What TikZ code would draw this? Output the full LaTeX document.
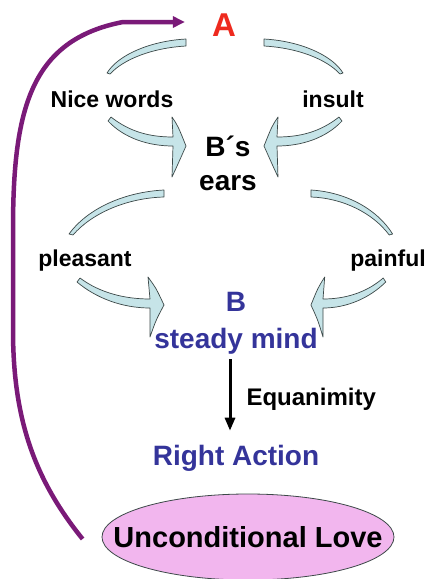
\documentclass[tikz,border=0pt]{standalone}
\usepackage{fontspec}
\setmainfont{Liberation Sans}
\usetikzlibrary{arrows.meta,shapes.geometric,positioning}
\definecolor{AlertRed}{HTML}{EE2A1E}
\definecolor{MindBlue}{HTML}{34349A}
\definecolor{LovePurple}{HTML}{7A1A78}
\definecolor{LovePink}{HTML}{F2B6EE}
\definecolor{FlowCyan}{HTML}{C6E4E8}
\definecolor{EdgeGray}{HTML}{3C4848}

\begin{document}
\begin{tikzpicture}[
      x=1pt,
      y=-1pt,
      >=Latex,
      word/.style={font=\fontsize{23}{28}\selectfont\bfseries,inner sep=0pt},
      bluetext/.style={font=\fontsize{28}{37}\selectfont\bfseries,text=MindBlue,align=center,inner sep=0pt},
      flow/.style={fill=FlowCyan,draw=EdgeGray,line width=0.7pt,line join=round}
    ]
      \useasboundingbox (0,0) rectangle (430,579);
      \node[font=\fontsize{33}{33}\selectfont\bfseries,text=AlertRed,inner sep=0pt] (a) at (224,25) {A};
      \node[word] (nice) at (112,99) {Nice words};
      \node[word] (insult) at (333,99) {insult};
      \node[font=\fontsize{28}{34}\selectfont\bfseries,align=center,inner sep=0pt] (ears) at (228,163) {B´s\\ears};
      \node[word] (pleasant) at (85,261) {pleasant};
      \node[word] (painful) at (388,261) {painful};
      \node[bluetext] (mind) at (236,323) {B\\steady mind};
      \node[bluetext] (action) at (236,458) {Right Action};
      \node[ellipse,draw=EdgeGray,fill=LovePink,line width=0.8pt,inner sep=0pt,
            minimum width=292pt,minimum height=86pt] (love) at (248,537) {};
      \node[font=\fontsize{29}{29}\selectfont\bfseries,inner sep=0pt] (lovetext) at (love.center) {Unconditional Love};
      \foreach \sx/\cx in {1/0,-1/450} {
        \begin{scope}[xshift=\cx,xscale=\sx]
          \draw[flow] (186,39) .. controls (150,41) and (118,55) .. (107,73) -- (110,74)
            .. controls (124,59) and (152,48) .. (186,46) -- cycle;
          \draw[flow] (111,117) .. controls (130,132) and (150,137) .. (173,137) -- (172,117)
            .. controls (178,126) .. (186,146) .. controls (178,164) .. (172,177) -- (173,146)
            .. controls (148,146) and (124,138) .. (108,121) -- cycle;
        \end{scope}
      }
      \foreach \sx/\cx in {1/0,-0.86/452} {
        \begin{scope}[xshift=\cx,xscale=\sx]
          \draw[flow] (164,190) .. controls (125,192) and (88,208) .. (69,234) -- (73,235)
            .. controls (92,213) and (127,198) .. (164,197) -- cycle;
          \draw[flow] (80,278) .. controls (100,293) and (125,299) .. (150,299) -- (148,277)
            .. controls (156,288) .. (164,305) .. controls (156,320) .. (150,337) -- (150,308)
            .. controls (122,308) and (96,298) .. (77,282) -- cycle;
        \end{scope}
      }
      \draw[LovePurple,line width=4.5pt,-{Triangle[length=12pt,width=11pt]}] ([xshift=-19pt,yshift=-2pt]love.west)
        .. controls (35,480) and (13,420) .. (13,330) -- (13,230)
        .. controls (13,110) and (30,40) .. (123,22) -- ([xshift=-27pt,yshift=3pt]a.west);
      \draw[line width=3pt,-{Triangle[length=13pt,width=10pt]},shorten <=5pt,shorten >=14pt]
        ([xshift=-6pt]mind.south) -- node[word,midway,anchor=west,xshift=15pt,font=\fontsize{24}{28}\selectfont\bfseries] (equa) {Equanimity}
        ([xshift=-6pt]action.north);
    \end{tikzpicture}
\end{document}
